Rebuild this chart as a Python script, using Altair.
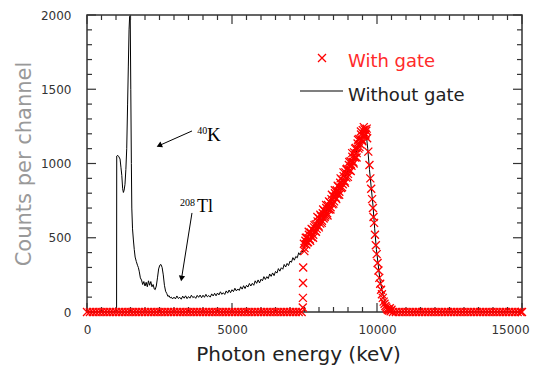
import altair as alt
import pandas as pd

# ---------------- data ----------------
# spectrum without gate (black line): low-energy part
black_head_energy = [
    0, 1020, 1025, 1060, 1100, 1140, 1170, 1200, 1230, 1255, 1280, 1310, 1340, 1370,
    1400, 1425, 1450, 1470, 1490, 1510, 1530, 1545, 1570, 1600, 1630, 1660, 1700,
    1740, 1770, 1800, 1840, 1880, 1920, 1960, 2000, 2040, 2080, 2120, 2160, 2200,
    2240, 2280, 2320, 2350, 2390, 2430, 2470, 2510, 2550, 2590, 2630, 2670, 2710,
    2750, 2790, 2830, 2870, 2910, 2950,
]
black_head_counts = [
    0, 0, 1050, 1055, 1045, 1030, 975, 920, 830, 805, 820, 860, 960, 1100,
    1400, 1650, 1900, 1990, 1995, 1500, 1000, 700, 560, 485, 420, 370, 340,
    315, 300, 275, 230, 215, 185, 205, 175, 200, 170, 210, 180, 205,
    170, 185, 155, 150, 175, 230, 290, 315, 320, 300, 250, 180, 140,
    125, 105, 110, 95, 100, 88,
]
# continuum, channels of 50 keV from 3000 to 7500 keV
black_cont_energy = list(range(3000, 7501, 50))
black_cont_counts = [
    100, 88, 108, 91, 99, 86, 107, 93, 109, 90, 104, 93, 113, 97, 104, 92, 112, 99, 114, 96, 113,
    99, 119, 102, 111, 100, 122, 108, 126, 109, 128, 115, 136, 119, 130, 118, 142, 127, 148, 130, 150,
    137, 160, 142, 155, 145, 170, 154, 177, 158, 180, 168, 192, 175, 193, 180, 210, 193, 216, 196, 221,
    210, 238, 219, 238, 225, 256, 240, 263, 245, 273, 262, 292, 275, 298, 288, 320, 303, 327, 313, 343,
    335, 366, 349, 374, 365, 399, 384, 410, 405, 440,
]
# high-energy part (gated peak region)
black_tail_energy = [
    7600, 7700, 7800, 7900, 8000, 8100, 8200, 8300, 8400, 8500, 8600, 8700, 8800,
    8900, 9000, 9100, 9200, 9300, 9400, 9500, 9560, 9620, 9680, 9740, 9800, 9860,
    9920, 9980, 10040, 10100, 10170, 10240, 10300, 10360, 10420, 10480, 15000,
]
black_tail_counts = [
    470, 500, 530, 565, 600, 630, 660, 695, 730, 765, 800, 840, 875,
    915, 955, 995, 1040, 1085, 1140, 1190, 1235, 1215, 1100, 960, 840, 720,
    560, 420, 320, 220, 150, 90, 50, 25, 10, 0, 0,
]

# spectrum with gate (red crosses)
red_low_energy = list(range(0, 7401, 100))
red_low_counts = [
    0, 0, 0, 0, 0, 0, 0, 0, 0, 0, 0, 0, 0, 0, 0, 0, 0, 0, 0, 0, 0, 0, 0, 0, 0,
    0, 0, 0, 0, 0, 0, 0, 0, 0, 0, 0, 0, 0, 0, 0, 0, 0, 0, 0, 0, 0, 0, 0, 0, 0,
    0, 0, 0, 0, 0, 0, 0, 0, 0, 0, 0, 0, 0, 0, 0, 0, 0, 0, 0, 0, 0, 0, 0, 0, 0,
]
red_peak_energy = [
    7440, 7445, 7450, 7455, 7480, 7500, 7530, 7560, 7590, 7620, 7650, 7680, 7710,
    7740, 7770, 7800, 7830, 7860, 7890, 7920, 7950, 7980, 8010, 8040, 8070, 8100,
    8130, 8160, 8190, 8220, 8250, 8280, 8310, 8340, 8370, 8400, 8430, 8460, 8490,
    8520, 8550, 8580, 8610, 8640, 8670, 8700, 8730, 8760, 8790, 8820, 8850, 8880,
    8910, 8940, 8970, 9000, 9030, 9060, 9090, 9120, 9150, 9180, 9210, 9240, 9270,
    9300, 9330, 9360, 9390, 9420, 9450, 9480, 9510, 9540, 9570, 9600, 9630, 9660,
    9700, 9740, 9770, 9800, 9830, 9860, 9880, 9900, 9930, 9960, 9990, 10020, 10050,
    10080, 10110, 10140, 10170, 10200, 10230, 10260, 10290, 10320, 10350, 10380,
    10410, 10440, 10470, 10500,
]
red_peak_counts = [
    30, 95, 195, 300, 460, 430, 480, 455, 500, 470, 520, 490, 535,
    505, 555, 520, 570, 545, 590, 560, 610, 580, 630, 595, 645, 615,
    665, 630, 680, 650, 700, 665, 720, 690, 740, 705, 760, 725, 780,
    745, 800, 770, 820, 790, 845, 810, 870, 835, 890, 860, 915, 880,
    940, 905, 965, 930, 990, 955, 1015, 985, 1045, 1010, 1075, 1040, 1105,
    1070, 1135, 1100, 1165, 1130, 1195, 1160, 1225, 1185, 1230, 1200, 1220, 1170,
    1080, 990, 900, 830, 760, 700, 640, 600, 520, 450, 390, 330, 280,
    230, 190, 150, 120, 95, 70, 55, 40, 30, 20, 15,
    10, 25, 5, 15,
]
red_peak2_energy = [
    7495, 7545, 7595, 7645, 7695, 7745, 7795, 7845, 7895, 7945, 7995, 8045, 8095,
    8145, 8195, 8245, 8295, 8345, 8395, 8445, 8495, 8545, 8595, 8645, 8695, 8745,
    8795, 8845, 8895, 8945, 8995, 9045, 9095, 9145, 9195, 9245, 9295, 9345, 9395,
    9445, 9495, 9545, 9595, 9645,
]
red_peak2_counts = [
    410, 500, 470, 540, 480, 560, 500, 585, 540, 640, 570, 655, 600,
    690, 640, 720, 650, 745, 690, 790, 730, 820, 760, 850, 790, 900,
    840, 940, 870, 960, 910, 1010, 950, 1070, 1000, 1100, 1040, 1160, 1110,
    1215, 1150, 1245, 1190, 1235,
]
red_high_energy = list(range(10550, 15001, 100)) + [15000]
red_high_counts = [
    0, 0, 0, 0, 0, 0, 0, 0, 0, 0, 0, 0, 0, 0, 0, 0, 0, 0, 0, 0, 0, 0, 0,
    0, 0, 0, 0, 0, 0, 0, 0, 0, 0, 0, 0, 0, 0, 0, 0, 0, 0, 0, 0, 0, 0, 0,
]

x_tick_labels = [0, 5000, 10000, 15000]
y_tick_labels = [0, 500, 1000, 1500, 2000]
x_minor = [v for v in range(0, 15001, 500) if v not in x_tick_labels]
y_minor = [v for v in range(0, 2001, 100) if v not in y_tick_labels]

# annotations (data coordinates: keV, counts)
arrow_x1 = [3620, 3620]
arrow_y1 = [1219, 667]
arrow_x2 = [2489, 3260]
arrow_y2 = [1121, 226]
arrow_angle = [246, 189]
ann_text = ["40", "K", "208", "Tl"]
ann_x = [3800, 4138, 3207, 3793]
ann_y = [1199, 1152, 714, 673]
ann_size = [10, 19, 10, 18]

legend_labels = ["With gate", "Without gate"]

# ---------------- chart ----------------
W, H = 435, 297
RED = "#ff0000"
XPATH = "M-1,-1L1,1M-1,1L1,-1"
xs = alt.Scale(domain=[0, 15000], nice=False, zero=False)
ys = alt.Scale(domain=[0, 2000], nice=False, zero=False)
X_TITLE = "Photon energy  (keV)"
Y_TITLE = "Counts per channel"

AX = alt.Axis(
    values=x_tick_labels, format="d", ticks=False, domain=False, grid=False,
    labelFlush=False, labelFont="DejaVu Sans", labelFontSize=12, labelColor="#333",
    labelOffset={"condition": {"test": "datum.value == 15000", "value": -12}, "value": 0},
    labelPadding=12, title=X_TITLE, titleFont="DejaVu Sans",
    titleFontSize=20, titleFontWeight="normal", titleColor="#222",
    titlePadding=9, titleX=211)
AY = alt.Axis(
    values=y_tick_labels, format="d", ticks=False, domain=False, grid=False,
    labelFlush=False, labelFont="DejaVu Sans", labelFontSize=12, labelColor="#333",
    labelPadding=16, title=Y_TITLE, titleFont="DejaVu Sans",
    titleFontSize=21, titleFontWeight="normal", titleColor="#999",
    titlePadding=6)


def X(field):
    return alt.X(field, scale=xs, axis=AX, title=X_TITLE)


def Y(field):
    return alt.Y(field, scale=ys, axis=AY, title=Y_TITLE)


black_df = pd.DataFrame({
    "e": black_head_energy + black_cont_energy + black_tail_energy,
    "c": black_head_counts + black_cont_counts + black_tail_counts,
})
red_df = pd.DataFrame({
    "e": red_low_energy + red_peak_energy + red_peak2_energy + red_high_energy,
    "c": red_low_counts + red_peak_counts + red_peak2_counts + red_high_counts,
})

line = alt.Chart(black_df).mark_line(color="black", strokeWidth=1, clip=True).encode(
    x=X("e:Q"), y=Y("c:Q"))

red = alt.Chart(red_df).mark_point(
    shape=XPATH, size=64, filled=False, color=RED, strokeWidth=1.3, opacity=1
).encode(x=X("e:Q"), y=Y("c:Q"))


def xticks(vals, y0, y1):
    return alt.Chart(pd.DataFrame({"e": vals})).mark_rule(color="#333", strokeWidth=1.2).encode(
        x=X("e:Q"), y=alt.value(y0), y2=alt.value(y1))


def yticks(vals, x0, x1):
    return alt.Chart(pd.DataFrame({"c": vals})).mark_rule(color="#333", strokeWidth=1.2).encode(
        y=Y("c:Q"), x=alt.value(x0), x2=alt.value(x1))


ticks = [
    xticks(x_tick_labels, H, H - 9), xticks(x_minor, H, H - 5),
    xticks(x_tick_labels, 0, 9), xticks(x_minor, 0, 5),
    yticks(y_tick_labels, 0, 9), yticks(y_minor, 0, 5),
    yticks(y_tick_labels, W, W - 9), yticks(y_minor, W, W - 5),
]

arrow_df = pd.DataFrame({"e": arrow_x1, "c": arrow_y1, "e2": arrow_x2,
                         "c2": arrow_y2, "a": arrow_angle})
arrows = alt.Chart(arrow_df).mark_rule(color="black", strokeWidth=1).encode(
    x=X("e:Q"), y=Y("c:Q"), x2="e2:Q", y2="c2:Q")
heads = alt.Chart(arrow_df).mark_point(
    shape="triangle-up", filled=True, color="black", size=40, opacity=1
).encode(x=X("e2:Q"), y=Y("c2:Q"), angle=alt.Angle("a:Q", scale=None))

ann_df = pd.DataFrame({"t": ann_text, "e": ann_x, "c": ann_y, "s": ann_size})
ann = alt.Chart(ann_df).mark_text(
    font="Liberation Serif", align="left", baseline="alphabetic", color="black"
).encode(x=X("e:Q"), y=Y("c:Q"), text="t:N", size=alt.Size("s:Q", scale=None))

leg_red_text = alt.Chart(pd.DataFrame({"t": [legend_labels[0]]})).mark_text(
    font="DejaVu Sans", fontSize=18, align="left", baseline="alphabetic", color="#ff2a2a"
).encode(x=alt.value(261), y=alt.value(52), text="t:N")
leg_black_text = alt.Chart(pd.DataFrame({"t": [legend_labels[1]]})).mark_text(
    font="DejaVu Sans", fontSize=18, align="left", baseline="alphabetic", color="#222"
).encode(x=alt.value(261), y=alt.value(86), text="t:N")
leg_red_mark = alt.Chart(pd.DataFrame({"t": [legend_labels[0]]})).mark_point(
    shape=XPATH, size=64, filled=False, color=RED, strokeWidth=1.3, opacity=1
).encode(x=alt.value(235), y=alt.value(43))
leg_black_line = alt.Chart(pd.DataFrame({"t": [legend_labels[1]]})).mark_rule(
    color="black", strokeWidth=1.2
).encode(x=alt.value(213), x2=alt.value(256), y=alt.value(76))

chart = alt.layer(
    line, *ticks, red, arrows, heads, ann,
    leg_red_mark, leg_red_text, leg_black_line, leg_black_text,
).properties(
    width=W, height=H,
    autosize=alt.AutoSizeParams(type="none"),
    padding={"left": 79, "top": 7, "right": 8, "bottom": 54},
).configure_view(stroke="#333", strokeWidth=1.5)

chart.save("out.html", embed_options={"renderer": "svg", "actions": False})
